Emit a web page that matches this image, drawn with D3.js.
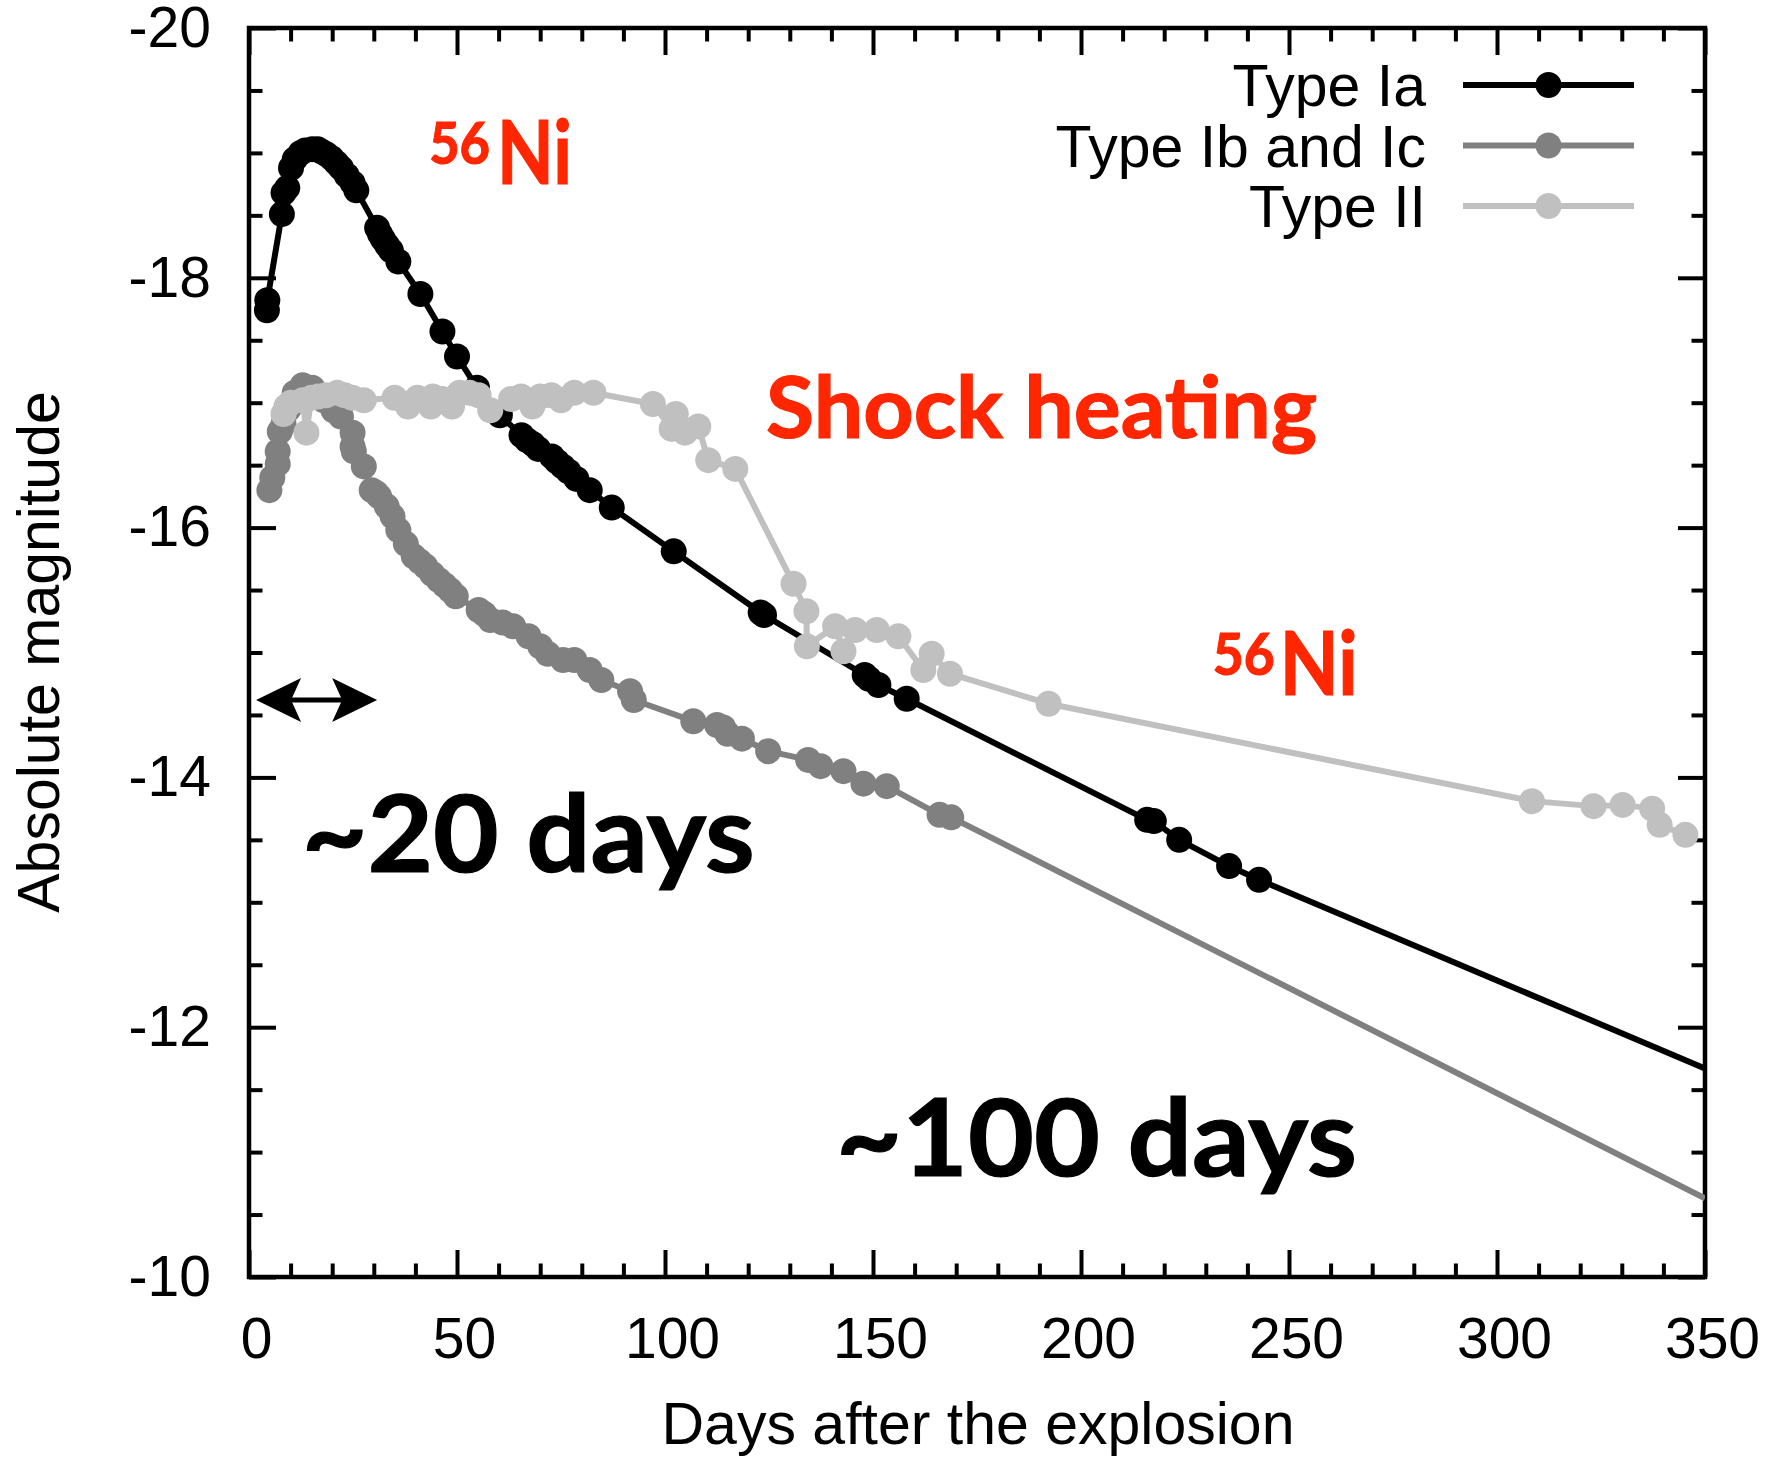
<!DOCTYPE html>
<html>
<head>
<meta charset="utf-8">
<script src="https://cdn.jsdelivr.net/npm/d3@7"></script>
<style>
  body { margin: 0; background: #fff; }
  svg { display: block; }
</style>
</head>
<body>
<svg id="chart"></svg>
<script>
// light curve data (days after explosion, absolute magnitude)
const ia_days = [4.3, 4.4, 7.9, 8.3, 9.2, 10.1, 11.0, 12.4, 13.5, 15.2, 16.5, 17.5, 18.6, 19.8, 21.0, 22.1, 23.5, 24.9, 25.8,
  30.8, 31.5, 32.2, 33.2, 34.1, 35.9, 41.2, 46.5, 50.0, 54.8, 60.3, 65.5, 66.8, 68.2, 69.5, 72.8, 74.0, 75.4, 76.8,
  78.7, 81.9, 87.2, 102.1, 123.0, 123.8, 148.0, 149.0, 151.3, 158.1, 215.9, 217.5, 223.6, 235.6, 242.8];
const ia_mags = [-17.74, -17.82, -18.51, -18.68, -18.72, -18.88, -18.95, -19.0, -19.02, -19.03, -19.03, -19.01, -18.99, -18.96, -18.92, -18.88, -18.82, -18.76, -18.7,
  -18.4, -18.35, -18.31, -18.26, -18.22, -18.13, -17.87, -17.57, -17.37, -17.12, -16.9, -16.74, -16.7, -16.67, -16.63, -16.57, -16.53, -16.49, -16.45,
  -16.39, -16.3, -16.16, -15.81, -15.32, -15.3, -14.82, -14.79, -14.74, -14.63, -13.66, -13.65, -13.5, -13.29, -13.18];
const ia_tail = [350, -11.67];

const ibc_days = [4.9, 5.6, 6.9, 6.9, 7.4, 8.3, 9.5, 11.0, 12.9, 15.2, 18.0, 20.3, 22.1, 24.9, 24.9, 25.2, 27.6, 29.5, 30.5,
  31.3, 33.1, 34.5, 35.9, 37.7, 39.6, 41.0, 42.4, 44.0, 45.6, 47.0, 48.3, 49.7, 55.2, 56.5, 58.0, 61.0, 63.5, 67.2, 70.0,
  71.8, 75.5, 78.2, 81.9, 84.7, 91.6, 92.5, 106.8, 112.5, 114.0, 115.0, 118.5, 124.8, 134.4, 137.4, 142.9, 147.7, 153.3, 166.0, 168.8];
const ibc_mags = [-16.3, -16.4, -16.51, -16.61, -16.77, -16.83, -16.95, -17.08, -17.14, -17.12, -17.02, -16.94, -16.89, -16.76, -16.65, -16.61, -16.49, -16.3, -16.28,
  -16.25, -16.17, -16.09, -15.98, -15.87, -15.77, -15.73, -15.69, -15.63, -15.58, -15.54, -15.5, -15.45, -15.34, -15.31, -15.26, -15.24, -15.21, -15.13, -15.05,
  -14.99, -14.94, -14.94, -14.86, -14.78, -14.69, -14.62, -14.45, -14.42, -14.4, -14.35, -14.31, -14.21, -14.14, -14.09, -14.05, -13.95, -13.93, -13.7, -13.68];
const ibc_tail = [350, -10.63];

const ii_days = [8.3, 9.0, 10.0, 12.9, 13.8, 15.0, 16.6, 18.5, 21.2, 23.0, 24.9, 27.6, 35.0, 38.2, 40.5, 43.7, 44.2, 46.5,
  48.8, 50.6, 53.0, 55.2, 58.0, 63.0, 65.4, 68.1, 70.0, 72.7, 75.0, 78.2, 82.8, 97.1, 101.6, 102.6, 104.8, 108.0, 110.4,
  116.9, 130.9, 134.0, 134.1, 140.9, 142.9, 145.7, 150.9, 156.1, 162.1, 164.1, 168.5, 192.2, 308.4, 323.2, 330.2, 337.3, 339.1, 345.3];
const ii_mags = [-16.91, -16.97, -17.0, -17.02, -16.76, -17.04, -17.05, -17.06, -17.08, -17.06, -17.04, -17.02, -17.04, -16.97, -17.04, -16.97, -17.05, -17.03,
  -16.97, -17.08, -17.08, -17.06, -16.94, -17.03, -17.05, -16.97, -17.05, -17.06, -17.02, -17.08, -17.08, -16.99, -16.79, -16.91, -16.76, -16.81, -16.54,
  -16.47, -15.55, -15.33, -15.05, -15.21, -15.01, -15.18, -15.18, -15.13, -14.86, -14.99, -14.83, -14.59, -13.81, -13.77, -13.78, -13.75, -13.62, -13.54];

const series_names = ["Type Ia", "Type Ib and Ic", "Type II"];
const series_colors = ["#000000", "#808080", "#c0c0c0"];

const x_ticks = [0, 50, 100, 150, 200, 250, 300, 350];
const y_ticks = [-20, -18, -16, -14, -12, -10];

const width = 1769, height = 1461;
const plot = { left: 249, right: 1705, top: 28, bottom: 1277 };
const axis_font = "'Liberation Sans', Arial, Helvetica, sans-serif";
const note_font = "Lato, 'Open Sans', sans-serif";
const red = "#ff2600";

const svg = d3.select("#chart").attr("width", width).attr("height", height);
svg.append("rect").attr("width", width).attr("height", height).attr("fill", "#fff");

const x = d3.scaleLinear().domain([0, 350]).range([plot.left, plot.right]);
const y = d3.scaleLinear().domain([-20, -10]).range([plot.top, plot.bottom]);

const x_minor = d3.range(0, 351, 10).filter((d) => d % 50 !== 0);
const y_minor = d3.range(-20, -9.9, 0.5).filter((d) => Math.abs(d % 2) > 0.01);

function styleAxis(g) {
  g.select(".domain").remove();
  g.selectAll(".tick line").attr("stroke", "#000").attr("stroke-width", 4);
  g.selectAll("text").attr("font-family", axis_font).attr("font-size", 57).attr("fill", "#000");
}

// ticks point inward on all four sides
const major_len = 27, minor_len = 13.5;
[
  [d3.axisBottom, plot.bottom, "x"],
  [d3.axisTop, plot.top, "x"],
  [d3.axisLeft, plot.left, "y"],
  [d3.axisRight, plot.right, "y"],
].forEach(([axisFn, pos, dim]) => {
  const scale = dim === "x" ? x : y;
  const tr = dim === "x" ? `translate(0,${pos})` : `translate(${pos},0)`;
  svg.append("g").attr("transform", tr)
    .call(axisFn(scale).tickValues(dim === "x" ? x_minor : y_minor).tickSize(-minor_len).tickFormat(""))
    .call(styleAxis);
  svg.append("g").attr("transform", tr)
    .call(axisFn(scale).tickValues(dim === "x" ? x_ticks : y_ticks).tickSize(-major_len).tickFormat(""))
    .call(styleAxis);
});

// tick labels (plain hyphen, as in the figure)
svg.append("g").attr("transform", `translate(7,${plot.bottom})`)
  .call(d3.axisBottom(x).tickValues(x_ticks).tickSize(0).tickPadding(40.5))
  .call(styleAxis);
svg.append("g").attr("transform", `translate(${plot.left},0)`)
  .call(d3.axisLeft(y).tickValues(y_ticks).tickSize(0).tickPadding(38).tickFormat((d) => String(d)))
  .call(styleAxis);

svg.append("rect")
  .attr("x", plot.left).attr("y", plot.top)
  .attr("width", plot.right - plot.left).attr("height", plot.bottom - plot.top)
  .attr("fill", "none").attr("stroke", "#000").attr("stroke-width", 4.5);

svg.append("text")
  .attr("x", 978).attr("y", 1444)
  .attr("text-anchor", "middle")
  .attr("font-family", axis_font).attr("font-size", 59)
  .text("Days after the explosion");

svg.append("text")
  .attr("transform", "translate(59,652) rotate(-90)")
  .attr("text-anchor", "middle")
  .attr("font-family", axis_font).attr("font-size", 59)
  .text("Absolute magnitude");

// series
svg.append("clipPath").attr("id", "plot_clip")
  .append("rect")
  .attr("x", plot.left).attr("y", plot.top)
  .attr("width", plot.right - plot.left).attr("height", plot.bottom - plot.top);

const zip = (ds, ms) => ds.map((d, i) => ({ day: d, mag: ms[i] }));
const series = [
  { pts: zip(ia_days, ia_mags), tail: ia_tail },
  { pts: zip(ibc_days, ibc_mags), tail: ibc_tail },
  { pts: zip(ii_days, ii_mags), tail: null },
];

const line = d3.line().x((d) => x(d.day)).y((d) => y(d.mag));
const marker_r = 13;

const plot_g = svg.append("g").attr("clip-path", "url(#plot_clip)");
series.forEach((s, i) => {
  let path_pts = s.pts.slice();
  if (s.tail) path_pts.push({ day: s.tail[0], mag: s.tail[1] });
  let g = plot_g.append("g");
  g.append("path")
    .datum(path_pts)
    .attr("fill", "none")
    .attr("stroke", series_colors[i])
    .attr("stroke-width", 6)
    .attr("stroke-linejoin", "round")
    .attr("d", line);
  g.selectAll("circle")
    .data(s.pts)
    .join("circle")
    .attr("cx", (d) => x(d.day))
    .attr("cy", (d) => y(d.mag))
    .attr("r", marker_r)
    .attr("fill", series_colors[i]);
});

// legend
const legend_rows = [85, 145.5, 206];
series_names.forEach((name, i) => {
  let row = svg.append("g").attr("transform", `translate(0,${legend_rows[i]})`);
  row.append("text")
    .attr("x", 1426).attr("y", 21)
    .attr("text-anchor", "end")
    .attr("font-family", axis_font).attr("font-size", 59)
    .text(name);
  row.append("line")
    .attr("x1", 1463).attr("x2", 1634)
    .attr("stroke", series_colors[i]).attr("stroke-width", 6);
  row.append("circle").attr("cx", 1548.5).attr("r", marker_r).attr("fill", series_colors[i]);
});

// annotations; a thin same-colour stroke thickens Lato toward the heavier original face
function note(day, mag, txt, size, color, len) {
  let t = svg.append("text")
    .attr("x", x(day)).attr("y", y(mag))
    .attr("font-family", note_font).attr("font-weight", "bold")
    .attr("font-size", size).attr("fill", color)
    .attr("stroke", color).attr("stroke-width", 1.2)
    .text(txt);
  if (len) t.attr("textLength", len).attr("lengthAdjust", "spacingAndGlyphs");
  return t;
}

note(43.3, -18.911, "56", 58, red, 61);
note(59.6, -18.753, "Ni", 88, red, 75);
note(231.7, -14.82, "56", 58, red, 62);
note(247.8, -14.66, "Ni", 88, red, 78);
note(124.3, -16.715, "Shock heating", 86, red, 551);
note(12.67, -13.245, "~20 days", 108, "#000", 453);
note(141.1, -10.81, "~100 days", 108, "#000", 521);

// double-headed arrow spanning ~20 days
const arrow_span = [1.7, 30.8];
const arrow_mag = -14.62;
const ax0 = x(arrow_span[0]), ax1 = x(arrow_span[1]), ay = y(arrow_mag);
const head_len = 45, head_half = 22, notch = 10;
svg.append("line")
  .attr("x1", ax0 + head_len - notch).attr("x2", ax1 - head_len + notch)
  .attr("y1", ay).attr("y2", ay)
  .attr("stroke", "#000").attr("stroke-width", 5);
[[ax0, 1], [ax1, -1]].forEach(([tip, dir]) => {
  svg.append("path")
    .attr("d", `M${tip},${ay} L${tip + dir * head_len},${ay - head_half} L${tip + dir * (head_len - notch)},${ay} L${tip + dir * head_len},${ay + head_half} Z`)
    .attr("fill", "#000");
});
</script>
</body>
</html>
